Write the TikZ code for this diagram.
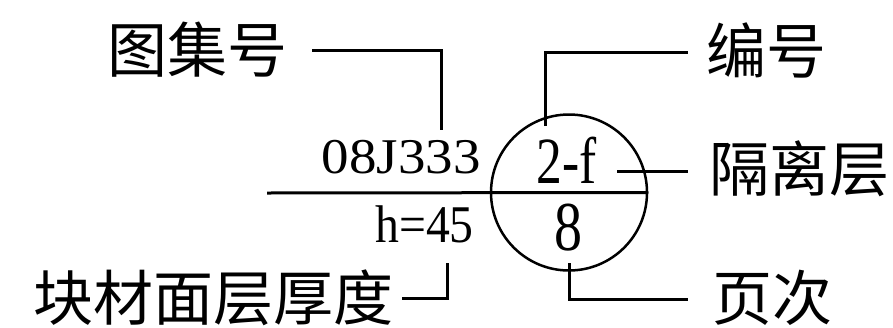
\documentclass[tikz,border=0pt]{standalone}
\usepackage{fontspec}
\setmainfont{Liberation Serif}
\newfontfamily\cjk{Noto Sans CJK SC}
\usepackage{tikz}
\usetikzlibrary{positioning}

\begin{document}
\begin{tikzpicture}[x=1pt, y=-1pt,
    lbl/.style={inner sep=0pt, font=\cjk\fontsize{60pt}{60pt}\selectfont},
    num/.style={inner sep=0pt, font=\fontsize{50pt}{50pt}\selectfont},
    lead/.style={line width=3pt},
    rule/.style={line width=3pt},
]
\useasboundingbox (0,0) rectangle (893,327);

% index circle
\node[draw, circle, line width=2.5pt, minimum size=156pt, inner sep=0pt] (idx) at (569,192.5) {};
\coordinate (hleft) at (267,193);
\draw[rule] (hleft) -- (idx.east);

% texts on the symbol
\node[num, anchor=base east, xscale=1.1] (atlasno) at (481,173) {08J333};
\node[num, anchor=base east, xscale=0.9, font=\fontsize{53pt}{53pt}\selectfont] (thick) at (474,242) {h=45};
\node[num, anchor=base, xscale=0.78, font=\fontsize{66pt}{66pt}\selectfont] (sep) at (567,183) {2-f};
\node[num, anchor=base, xscale=0.8, font=\fontsize{70pt}{70pt}\selectfont] (page) at (568,250) {8};

% labels left
\node[lbl, anchor=east] (atlas) at (288,50) {图集号};
\node[lbl, anchor=east] (thicklbl) at (394,298) {块材面层厚度};
\coordinate (atlastip) at (441,130);
\coordinate (thicktip) at (447,263);
\draw[lead] ([xshift=24pt]atlas.east) -| (atlastip);
\draw[lead] ([xshift=8pt]thicklbl.east) -| (thicktip);

% labels right
\node[lbl, anchor=west] (numlbl) at (706,50) {编号};
\node[lbl, anchor=west] (seplbl) at (709,169) {隔离层};
\node[lbl, anchor=west] (pagelbl) at (712,298) {页次};
\coordinate (numtip) at (545,126);
\coordinate (septip) at (617,171);
\coordinate (pagetip) at (569,263);
\draw[lead] (numtip) |- ([xshift=-18pt]numlbl.west |- 0,52);
\draw[lead] (septip) -- ([xshift=-21pt]seplbl.west |- septip);
\draw[lead] (pagetip) |- ([xshift=-24pt]pagelbl.west |- 0,299);
\end{tikzpicture}
\end{document}
